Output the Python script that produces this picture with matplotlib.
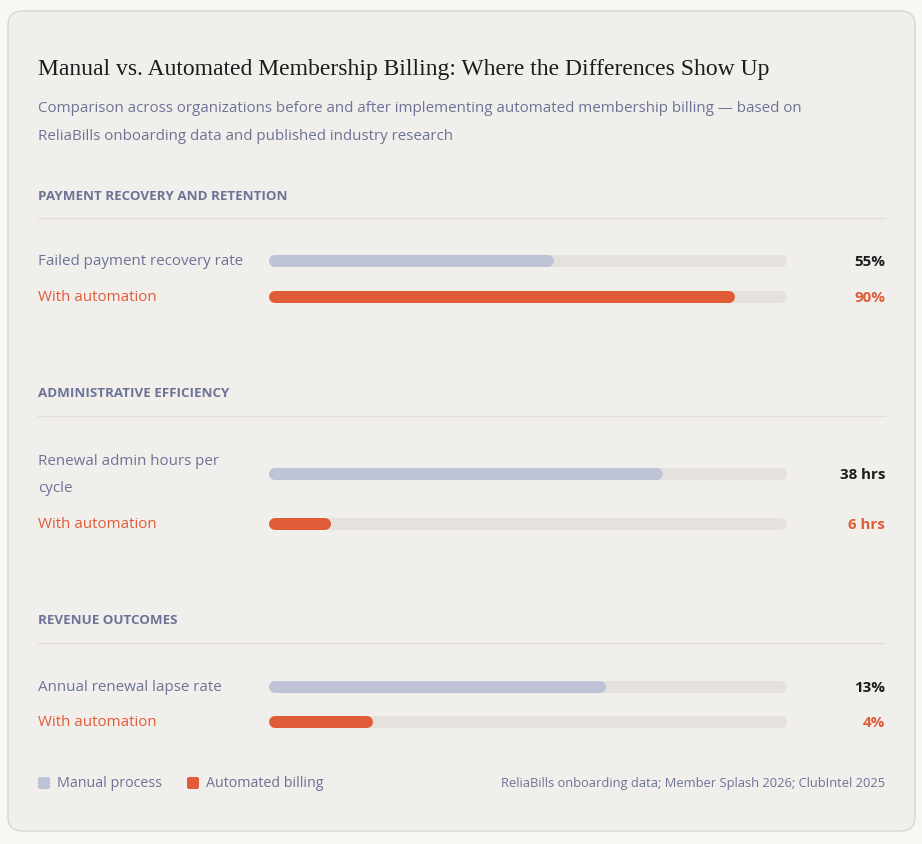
import matplotlib.pyplot as plt
from matplotlib.patches import FancyBboxPatch

# ---------------------------------------------------------------------------
# Data
# ---------------------------------------------------------------------------
sections = ["PAYMENT RECOVERY AND RETENTION", "ADMINISTRATIVE EFFICIENCY", "REVENUE OUTCOMES"]
metrics = ["Failed payment recovery rate", "Renewal admin hours per\ncycle", "Annual renewal lapse rate"]
manual_values = [55, 38, 13]
auto_values = [90, 6, 4]
scale_max = [100, 50, 20]
manual_labels = ["55%", "38 hrs", "13%"]
auto_labels = ["90%", "6 hrs", "4%"]

BG = "#f8f7f3"
CARD = "#f1efec"
TRACK = "#e5e2de"
MANUAL = "#bec4d6"
AUTO = "#e05c38"
MUTED = "#6c7396"
DARK = "#1c1c1c"

plt.rcParams["font.family"] = ["Open Sans", "DejaVu Sans"]

fig = plt.figure(figsize=(9.22, 8.45), dpi=100, facecolor=BG)
ax = fig.add_axes([0, 0, 1, 1])
ax.set_xlim(0, 922)
ax.set_ylim(845, 0)
ax.axis("off")

ax.add_patch(FancyBboxPatch((8, 12), 907, 820, boxstyle="round,pad=0,rounding_size=14",
                            facecolor=CARD, edgecolor="#d8d6d2", lw=1))

ax.text(38, 69, "Manual vs. Automated Membership Billing: Where the Differences Show Up",
        fontsize=17, family="Liberation Serif", color=DARK, va="center")
ax.text(38, 108, "Comparison across organizations before and after implementing automated membership billing \u2014 based on",
        fontsize=10.9, color=MUTED, va="center")
ax.text(38, 136, "ReliaBills onboarding data and published industry research",
        fontsize=10.9, color=MUTED, va="center")

x0, x1 = 269, 787
bar_h_pt = 12 * 72 / 100
cap = 6

def bar(y, frac, color):
    end = x0 + (x1 - x0) * frac
    ax.plot([x0 + cap, max(end - cap, x0 + cap)], [y, y], color=color, lw=bar_h_pt,
            solid_capstyle="round")

section_y = [196, 394, 621]
manual_y = [262, 475, 688]
auto_y = [298, 525, 723]

for i in range(len(sections)):
    sy = section_y[i]
    ax.text(38, sy, sections[i], fontsize=9.6, fontweight="bold", color=MUTED, va="center")
    ax.plot([38, 885], [sy + 23, sy + 23], color="#e2dfdb", lw=1)
    # manual row
    ax.text(38, manual_y[i], metrics[i], fontsize=10.9, color=MUTED, va="center", linespacing=2.1)
    bar(manual_y[i], 1.0, TRACK)
    bar(manual_y[i], manual_values[i] / scale_max[i], MANUAL)
    ax.text(885, manual_y[i], manual_labels[i], fontsize=10.9, fontweight="bold", color=DARK,
            ha="right", va="center")
    # automated row
    ax.text(38, auto_y[i], "With automation", fontsize=10.9, color=AUTO, va="center")
    bar(auto_y[i], 1.0, TRACK)
    bar(auto_y[i], auto_values[i] / scale_max[i], AUTO)
    ax.text(885, auto_y[i], auto_labels[i], fontsize=10.9, fontweight="bold", color=AUTO,
            ha="right", va="center")

# legend
ax.add_patch(FancyBboxPatch((38, 778), 12, 12, boxstyle="round,pad=0,rounding_size=2",
                            facecolor=MANUAL, edgecolor="none"))
ax.text(57, 784, "Manual process", fontsize=10.3, color=MUTED, va="center")
ax.add_patch(FancyBboxPatch((187, 778), 12, 12, boxstyle="round,pad=0,rounding_size=2",
                            facecolor=AUTO, edgecolor="none"))
ax.text(206, 784, "Automated billing", fontsize=10.3, color=MUTED, va="center")
ax.text(885, 784, "ReliaBills onboarding data; Member Splash 2026; ClubIntel 2025",
        fontsize=9.3, color=MUTED, ha="right", va="center")

fig.savefig("out.png", dpi=100, facecolor=BG)
